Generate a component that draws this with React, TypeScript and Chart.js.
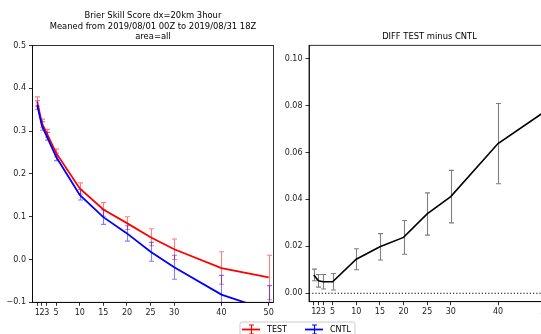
import React, { useEffect, useRef } from 'react';
import { Chart, registerables } from 'chart.js';
Chart.register(...registerables);

// ---- data ----
const xValues = [1, 2, 3, 5, 10, 15, 20, 25, 30, 40, 50];
const xTickValues = [1, 2, 3, 5, 10, 15, 20, 25, 30, 40, 50];

const testValues = [0.369, 0.318, 0.295, 0.249, 0.166, 0.117, 0.085, 0.052, 0.024, -0.020, -0.042];
const testErrors = [0.011, 0.010, 0.009, 0.009, 0.013, 0.016, 0.015, 0.020, 0.024, 0.038, 0.052];
const cntlValues = [0.361, 0.312, 0.288, 0.240, 0.151, 0.099, 0.061, 0.018, -0.018, -0.082, -0.119];
const cntlErrors = [0.010, 0.010, 0.009, 0.009, 0.012, 0.017, 0.018, 0.022, 0.028, 0.045, 0.058];

const diffValues = [0.0078, 0.0053, 0.0049, 0.0049, 0.0145, 0.0198, 0.0238, 0.0338, 0.0412, 0.0638, 0.0776];
const diffErrors = [0.0025, 0.0027, 0.0031, 0.0035, 0.0045, 0.0056, 0.0072, 0.0090, 0.0112, 0.0171, 0.0200];

const leftYTickValues = [-0.1, 0.0, 0.1, 0.2, 0.3, 0.4, 0.5];
const rightYTickValues = [0.0, 0.02, 0.04, 0.06, 0.08, 0.1];

const leftTitleLines = [
  'Brier Skill Score dx=20km 3hour',
  'Meaned from 2019/08/01 00Z to 2019/08/31 18Z',
  'area=all',
];
const rightTitle = 'DIFF TEST minus CNTL';
const seriesNames = ['TEST', 'CNTL', 'DIFF'];

const FONT = "'DejaVu Sans', sans-serif";
const fmt = (v: number, d: number) => {
  if (Math.abs(v) < 1e-9) return (0).toFixed(d);
  return v.toFixed(d).replace('-', '\u2212');
};

const errorBarPlugin = {
  id: 'errbars',
  beforeDatasetsDraw(chart: any) {
    const { ctx, chartArea, scales } = chart;
    ctx.save();
    ctx.beginPath();
    ctx.rect(chartArea.left, chartArea.top, chartArea.right - chartArea.left, chartArea.bottom - chartArea.top);
    ctx.clip();
    chart.data.datasets.forEach((ds: any) => {
      if (!ds.errors) return;
      ctx.strokeStyle = ds.errorColor;
      ctx.lineWidth = 1.1;
      ds.data.forEach((p: any, i: number) => {
        const x = Math.round(scales.x.getPixelForValue(p.x)) + 0.5;
        const y1 = scales.y.getPixelForValue(p.y - ds.errors[i]);
        const y2 = scales.y.getPixelForValue(p.y + ds.errors[i]);
        ctx.beginPath();
        ctx.moveTo(x, y1);
        ctx.lineTo(x, y2);
        ctx.moveTo(x - 2.5, y1);
        ctx.lineTo(x + 2.5, y1);
        ctx.moveTo(x - 2.5, y2);
        ctx.lineTo(x + 2.5, y2);
        ctx.stroke();
      });
    });
    ctx.restore();
  },
};

const framePlugin = {
  id: 'frame',
  afterDatasetsDraw(chart: any) {
    const { ctx, chartArea } = chart;
    const o = chart.options.plugins.frame || {};
    ctx.save();
    if (o.zeroLine) {
      const y = chart.scales.y.getPixelForValue(0);
      ctx.strokeStyle = '#000';
      ctx.lineWidth = 1.2;
      ctx.setLineDash([1.2, 2]);
      ctx.beginPath();
      ctx.moveTo(chartArea.left, y);
      ctx.lineTo(chartArea.right, y);
      ctx.stroke();
      ctx.setLineDash([]);
    }
    ctx.strokeStyle = '#000';
    ctx.lineWidth = 0.8;
    ctx.strokeRect(chartArea.left, chartArea.top, chartArea.right - chartArea.left, chartArea.bottom - chartArea.top);
    ctx.fillStyle = '#000';
    ctx.font = `8.4px ${FONT}`;
    ctx.textAlign = 'center';
    ctx.textBaseline = 'middle';
    const cx = (chartArea.left + chartArea.right) / 2;
    (o.titles || []).forEach((t: string, i: number) => {
      ctx.fillText(t, cx, o.titleY[i]);
    });
    if (o.legend) {
      const lg = o.legend;
      ctx.fillStyle = 'rgba(255,255,255,0.8)';
      ctx.strokeStyle = '#cccccc';
      ctx.lineWidth = 1;
      ctx.beginPath();
      const bx = lg.x, by = lg.y, bw = lg.w, bh = lg.h, r = 2;
      ctx.moveTo(bx + r, by);
      ctx.lineTo(bx + bw - r, by);
      ctx.quadraticCurveTo(bx + bw, by, bx + bw, by + r);
      ctx.lineTo(bx + bw, by + bh);
      ctx.lineTo(bx, by + bh);
      ctx.lineTo(bx, by + r);
      ctx.quadraticCurveTo(bx, by, bx + r, by);
      ctx.fill();
      ctx.stroke();
      lg.items.forEach((it: any) => {
        ctx.strokeStyle = it.color;
        ctx.lineWidth = 1.8;
        ctx.beginPath();
        ctx.moveTo(it.x, lg.cy);
        ctx.lineTo(it.x + 18, lg.cy);
        ctx.stroke();
        const mx = it.x + 9.5;
        ctx.lineWidth = 1.1;
        ctx.beginPath();
        ctx.moveTo(mx, lg.cy - 4.5);
        ctx.lineTo(mx, lg.cy + 4.5);
        ctx.moveTo(mx - 2.5, lg.cy - 4.5);
        ctx.lineTo(mx + 2.5, lg.cy - 4.5);
        ctx.moveTo(mx - 2.5, lg.cy + 4.5);
        ctx.lineTo(mx + 2.5, lg.cy + 4.5);
        ctx.stroke();
        ctx.fillStyle = '#000';
        ctx.font = `8px ${FONT}`;
        ctx.textAlign = 'left';
        ctx.textBaseline = 'middle';
        ctx.fillText(it.label, it.x + 25, lg.cy);
      });
    }
    ctx.restore();
  },
};

function axisX(height: number) {
  return {
    type: 'linear',
    min: 0,
    max: 51,
    afterBuildTicks: (s: any) => {
      s.ticks = xTickValues.map((v) => ({ value: v }));
    },
    afterFit: (s: any) => {
      s.height = height;
    },
    ticks: {
      autoSkip: false,
      maxRotation: 0,
      minRotation: 0,
      padding: 2,
      color: '#222',
      font: { family: FONT, size: 8 },
      callback: (v: any) => String(v),
    },
    grid: { display: true, drawOnChartArea: false, drawTicks: true, tickLength: 3.5, color: '#000', lineWidth: 0.8 },
    border: { display: true, color: '#000', width: 0.8 },
  };
}

function axisY(min: number, max: number, tickVals: number[], dec: number, width: number) {
  return {
    type: 'linear',
    min,
    max,
    afterBuildTicks: (s: any) => {
      s.ticks = tickVals.map((v) => ({ value: v }));
    },
    afterFit: (s: any) => {
      s.width = width;
    },
    ticks: {
      padding: 3,
      color: '#222',
      font: { family: FONT, size: 8 },
      callback: (v: any) => fmt(Number(v), dec),
    },
    grid: { display: true, drawOnChartArea: false, drawTicks: true, tickLength: 3.5, color: '#000', lineWidth: 0.8 },
    border: { display: true, color: '#000', width: 0.8 },
  };
}

export default function App() {
  const leftRef = useRef<HTMLCanvasElement>(null);
  const rightRef = useRef<HTMLCanvasElement>(null);

  useEffect(() => {
    const left = new Chart(leftRef.current as HTMLCanvasElement, {
      type: 'line',
      data: {
        datasets: [
          {
            label: seriesNames[0],
            data: xValues.map((x, i) => ({ x, y: testValues[i] })),
            borderColor: '#ff0000',
            borderWidth: 1.8,
            pointRadius: 0,
            tension: 0,
            fill: false,
            order: 1,
            errors: testErrors,
            errorColor: 'rgba(255,0,0,0.5)',
          } as any,
          {
            label: seriesNames[1],
            data: xValues.map((x, i) => ({ x, y: cntlValues[i] })),
            borderColor: '#0000ff',
            borderWidth: 1.8,
            pointRadius: 0,
            tension: 0,
            fill: false,
            order: 0,
            errors: cntlErrors,
            errorColor: 'rgba(0,0,255,0.5)',
          } as any,
        ],
      },
      options: {
        responsive: false,
        animation: false,
        devicePixelRatio: 1,
        layout: { padding: { left: 0, top: 45.5, right: 16.6, bottom: 0 } },
        scales: {
          x: axisX(31.7) as any,
          y: axisY(-0.1, 0.5, leftYTickValues, 1, 32.5) as any,
        },
        plugins: {
          legend: { display: false },
          tooltip: { enabled: false },
          frame: { titles: leftTitleLines, titleY: [16, 27, 37] },
        } as any,
      },
      plugins: [errorBarPlugin, framePlugin],
    });

    const right = new Chart(rightRef.current as HTMLCanvasElement, {
      type: 'line',
      data: {
        datasets: [
          {
            label: seriesNames[2],
            data: xValues.map((x, i) => ({ x, y: diffValues[i] })),
            borderColor: '#000000',
            borderWidth: 1.6,
            pointRadius: 0,
            tension: 0,
            fill: false,
            errors: diffErrors,
            errorColor: 'rgba(0,0,0,0.5)',
          } as any,
        ],
      },
      options: {
        responsive: false,
        animation: false,
        devicePixelRatio: 1,
        layout: { padding: { left: 0, top: 45.3, right: 10, bottom: 0 } },
        scales: {
          x: axisX(32.3) as any,
          y: axisY(-0.0036, 0.1057, rightYTickValues, 2, 79) as any,
        },
        plugins: {
          legend: { display: false },
          tooltip: { enabled: false },
          frame: {
            titles: [rightTitle],
            titleY: [37.3],
            zeroLine: true,
            legend: {
              x: 10,
              y: 322,
              w: 115,
              h: 24,
              cy: 329.5,
              items: [
                { label: seriesNames[0], color: '#ff0000', x: 12 },
                { label: seriesNames[1], color: '#0000ff', x: 75 },
              ],
            },
          },
        } as any,
      },
      plugins: [errorBarPlugin, framePlugin],
    });

    return () => {
      left.destroy();
      right.destroy();
    };
  }, []);

  return (
    <div style={{ position: 'fixed', left: 0, top: 0, width: 541, height: 334, overflow: 'hidden', background: '#fff' }}>
      <canvas ref={leftRef} width={290} height={334} style={{ position: 'absolute', left: 0, top: 0, width: 290, height: 334 }} />
      <canvas ref={rightRef} width={330} height={334} style={{ position: 'absolute', left: 230, top: 0, width: 330, height: 334 }} />
    </div>
  );
}
